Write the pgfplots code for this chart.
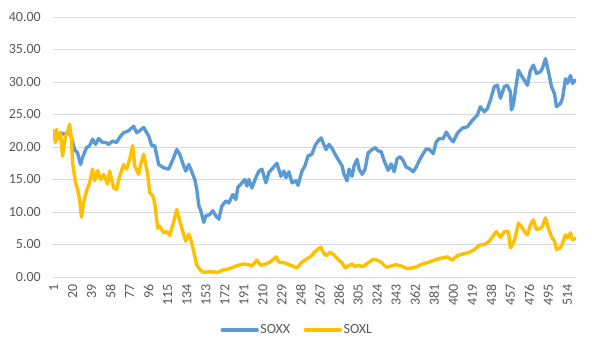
\documentclass[border=0pt]{standalone}
\usepackage{fontspec}
\setmainfont{Carlito}
\usepackage{pgfplots}
\pgfplotsset{compat=1.18}
\definecolor{soxx}{HTML}{5B9BD5}
\definecolor{soxl}{HTML}{FFC000}
\definecolor{txt}{HTML}{595959}
\definecolor{gridc}{HTML}{D9D9D9}
\begin{document}
\begin{tikzpicture}[x=1bp,y=1bp,font=\fontsize{14bp}{16bp}\selectfont]
\path[use as bounding box] (0,0) rectangle (592,356);
\begin{axis}[
  at={(53bp,79bp)}, anchor=south west,
  width=523bp, height=260bp, scale only axis,
  xmin=0.5, xmax=522.5, ymin=0, ymax=40,
  ytick={0,5,...,40},
  xtick={1,20,...,514},
  ymajorgrids,
  major grid style={draw=gridc, line width=0.9bp},
  axis line style={draw=none},
  tick style={draw=none},
  ticklabel style={text=txt, font=\fontsize{14bp}{16bp}\selectfont},
  yticklabel style={/pgf/number format/.cd, fixed, fixed zerofill, precision=2, assume math mode=true, /tikz/.cd, anchor=east, inner sep=0pt, xshift=-12bp},
  xticklabel style={/pgf/number format/.cd, assume math mode=true, /tikz/.cd, rotate=90, anchor=east, inner sep=0pt, xshift=-7bp},
  legend style={at={(axis description cs:0.4665,-0.204)}, anchor=center, draw=none, fill=none,
    text=txt, font=\fontsize{14bp}{16bp}\selectfont,
    nodes={inner sep=1.5bp},
    /tikz/every even column/.append style={column sep=12bp}},
  legend columns=2,
  legend image code/.code={\draw[#1] (0bp,0bp) -- (35bp,0bp);},
  every axis plot/.append style={line width=3.4bp, line join=round, line cap=round, mark=none},
]
\addplot[soxx] coordinates {
(1,22.5)(5,21.7)(8,22.2)(13,21.9)(16,22.5)(19,21.4)(22,19.6)(25,19.1)(28,17.3)(30,18.4)
(34,19.9)(37,20.2)(40,21.2)(43,20.4)(46,21.3)(50,20.7)(53,20.7)(56,20.4)(60,20.9)(64,20.7)
(67,21.5)(71,22.2)(76,22.5)(81,23.2)(84,22.2)(87,22.5)(91,23.0)(96,21.7)(99,20.2)(102,20.2)
(106,17.3)(111,16.8)(116,16.6)(121,18.4)(124,19.6)(127,18.9)(130,17.5)(133,16.3)(136,17.3)(138,16.6)
(142,15.0)(144,13.5)(146,11.0)(148,10.2)(151,8.4)(153,9.4)(157,9.6)(160,10.2)(163,9.4)(166,8.9)
(169,10.9)(173,11.7)(176,11.4)(180,12.7)(183,11.9)(185,13.8)(188,14.3)(192,15.0)(194,14.0)(196,15.0)
(199,13.7)(203,15.3)(206,16.3)(209,16.6)(213,14.5)(216,16.1)(219,16.6)(224,17.5)(228,15.5)(231,16.3)
(233,15.3)(236,16.2)(239,14.5)(243,14.8)(245,14.1)(249,16.3)(252,17.1)(255,18.6)(259,18.9)(262,20.2)
(265,20.9)(268,21.4)(270,20.7)(273,19.6)(276,20.4)(279,19.8)(282,18.9)(285,18.1)(289,17.1)(291,15.8)
(294,14.8)(296,16.6)(299,15.5)(301,17.1)(304,18.1)(306,16.6)(309,15.8)(312,16.6)(315,19.1)(319,19.6)
(322,19.9)(325,19.4)(328,19.3)(331,17.9)(335,16.4)(338,17.4)(341,16.2)(344,18.2)(347,18.5)(350,17.9)
(353,16.9)(356,16.7)(360,16.2)(363,16.9)(366,17.9)(370,19.0)(373,19.7)(376,19.6)(380,19.0)(383,20.8)
(386,21.3)(390,21.3)(393,22.3)(397,21.3)(400,20.8)(404,22.1)(409,22.9)(414,23.1)(419,24.1)(424,24.9)
(427,26.2)(431,25.4)(434,25.9)(437,27.2)(441,29.3)(444,29.5)(447,27.5)(451,29.3)(454,29.5)(457,28.5)
(458,25.7)(460,26.5)(462,28.7)(465,31.8)(468,31.0)(472,30.0)(474,29.5)(477,31.8)(480,32.6)(483,31.3)
(487,31.6)(489,32.1)(492,33.6)(495,31.6)(498,29.3)(501,28.2)(503,26.2)(507,26.7)(509,27.5)(512,30.5)
(514,29.8)(517,31.0)(519,29.8)(522,30.3)
};
\addlegendentry{SOXX}
\addplot[soxl] coordinates {
(1,22.5)(3,20.7)(4,22.7)(5,21.2)(8,22.2)(10,18.6)(13,21.7)(15,22.2)(17,23.5)(19,21.2)
(20,17.6)(23,14.5)(25,13.5)(27,11.9)(29,9.2)(31,11.4)(34,13.3)(37,14.5)(40,16.6)(42,14.8)
(45,16.4)(48,15.0)(51,15.8)(55,14.3)(57,16.3)(61,13.7)(64,13.5)(67,15.5)(71,17.3)(74,16.6)
(77,18.1)(80,20.2)(82,17.1)(86,15.8)(88,17.3)(91,18.9)(95,15.8)(97,13.0)(100,12.5)(102,11.4)
(105,7.5)(107,7.8)(111,6.8)(114,7.0)(117,6.4)(121,8.5)(124,10.4)(127,8.6)(130,7.0)(133,5.5)
(136,6.6)(138,5.8)(141,3.9)(144,1.8)(148,1.0)(151,0.7)(155,0.8)(160,0.8)(165,0.7)(170,1.1)
(175,1.2)(180,1.5)(185,1.8)(190,2.0)(196,1.9)(199,1.7)(204,2.6)(208,1.8)(213,2.0)(218,2.4)
(223,3.1)(226,2.3)(231,2.2)(236,1.9)(241,1.6)(244,1.4)(249,2.3)(254,2.8)(258,3.2)(262,3.9)
(265,4.3)(268,4.6)(270,3.8)(273,3.3)(277,3.8)(281,3.4)(285,2.7)(289,2.2)(292,1.4)(295,1.7)
(299,2.0)(302,1.6)(305,1.8)(310,1.6)(315,2.2)(320,2.7)(324,2.6)(328,2.3)(333,1.5)(338,1.7)
(343,1.9)(348,1.7)(354,1.3)(359,1.4)(364,1.6)(369,2.0)(376,2.3)(383,2.7)(388,2.9)(394,3.1)
(399,2.6)(404,3.3)(409,3.5)(416,3.8)(421,4.2)(426,4.9)(431,5.0)(436,5.5)(441,6.6)(443,7.0)
(447,6.1)(451,7.0)(455,7.0)(457,4.5)(460,5.2)(462,6.2)(465,8.3)(468,7.8)(472,6.8)(474,6.5)
(477,8.0)(480,8.8)(483,7.3)(487,7.5)(489,7.8)(492,9.1)(495,7.5)(498,6.2)(501,5.5)(503,4.2)
(507,4.5)(509,5.2)(512,6.5)(514,6.0)(517,6.8)(519,5.7)(522,6.0)
};
\addlegendentry{SOXL}
\end{axis}
\end{tikzpicture}
\end{document}
